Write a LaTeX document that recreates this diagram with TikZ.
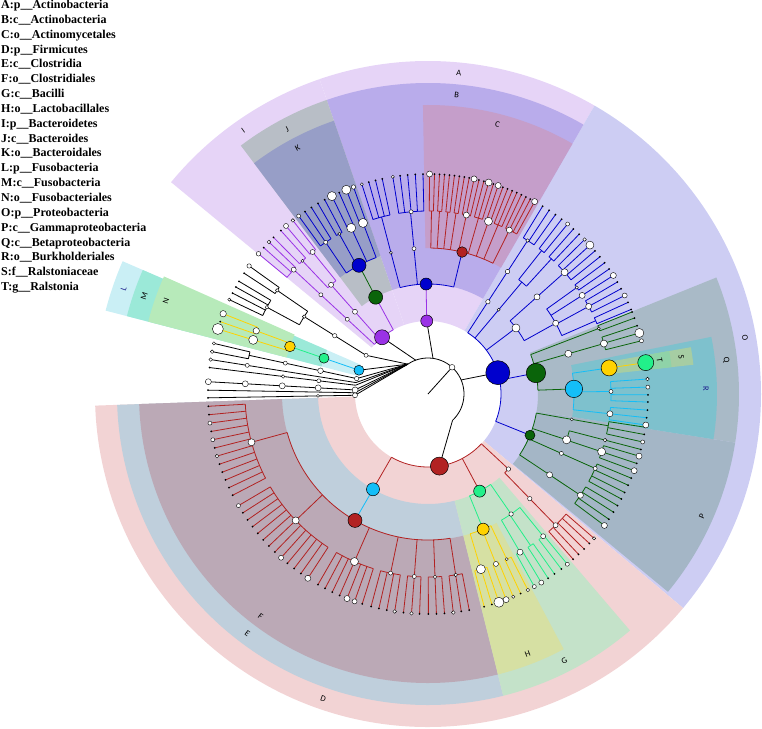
\documentclass[tikz,border=0pt]{standalone}
\usepackage{fontspec}
\setmainfont{Liberation Serif}
\newfontfamily\labfont{Carlito}
\usetikzlibrary{positioning}

% band colours
\definecolor{bandA}{HTML}{E6D4F7}
\definecolor{bandB}{HTML}{B9ACEB}
\definecolor{bandC}{HTML}{C59ECA}
\definecolor{bandD}{HTML}{F2D3D4}
\definecolor{bandE}{HTML}{BFCFDC}
\definecolor{bandF}{HTML}{BBA9B6}
\definecolor{bandG}{HTML}{C4E2C9}
\definecolor{bandH}{HTML}{D6E0A3}
\definecolor{bandJ}{HTML}{B8BEC6}
\definecolor{bandK}{HTML}{979EC7}
\definecolor{bandL}{HTML}{CAEFF5}
\definecolor{bandM}{HTML}{9BE9D8}
\definecolor{bandN}{HTML}{B7EABA}
\definecolor{bandO}{HTML}{CDCDF3}
\definecolor{bandP}{HTML}{A4B6C6}
\definecolor{bandQ}{HTML}{A9BAC7}
\definecolor{bandR}{HTML}{7EC1CD}
\definecolor{bandS}{HTML}{A6CDA3}
\definecolor{bandT}{HTML}{8FD3A8}
% clade colours
\definecolor{cPurple}{HTML}{9A32E6}
\definecolor{cBlue}{HTML}{0000CD}
\definecolor{cRed}{HTML}{B22222}
\definecolor{cGreen}{HTML}{0A640A}
\definecolor{cCyan}{HTML}{14BEF8}
\definecolor{cSpring}{HTML}{22F08A}
\definecolor{cGold}{HTML}{FFD200}
\definecolor{labBlue}{HTML}{1C1C8C}

% level radii
\newcommand\radK{36}
\newcommand\radP{73}
\newcommand\radC{110}
\newcommand\radO{146}
\newcommand\radF{183}
\newcommand\radG{220}

% annular band: colour, from, to, inner, outer
\newcommand\cladeband[5]{\fill[#1] (#2:#4) arc[start angle=#2, end angle=#3, radius=#4]
  -- (#3:#5) arc[start angle=#3, end angle=#2, radius=#5] -- cycle;}
% arc at #2 from #4 to #5, spokes out to #3
\newcommand\cfan[6][black]{\draw[br,#1] (#4:#2) arc[start angle=#4, end angle=#5, radius=#2];
  \foreach \a in {#6} {\draw[br,#1] (\a:#2) -- (\a:#3);}}
% family arc with leaf spokes
\newcommand\cleaves[4][black]{\draw[br,#1] (#2:\radF) arc[start angle=#2, end angle=#3, radius=\radF];
  \foreach \a in {#4} {\draw[br,#1] (\a:\radF) -- (\a:\radG); \fill (\a:\radG) circle[radius=1];}}
% tree nodes
\newcommand\wnode[2]{\filldraw[fill=white, draw=black, line width=0.4pt] (#1) circle[radius=#2];}
\newcommand\cnode[3]{\filldraw[fill=#1, draw=black, line width=0.5pt] (#2) circle[radius=#3];}

\begin{document}
\begin{tikzpicture}[x=1pt, y=1pt,
  br/.style={line width=0.8pt},
  lab/.style={font=\labfont\fontsize{8.5}{9}\selectfont, inner sep=0pt},
  legend/.style={anchor=base west, inner sep=0pt, font=\fontsize{12}{14}\selectfont\bfseries},
]
  \useasboundingbox (-428,-334) rectangle (334,394);

  % phylum bands
  \cladeband{bandA}{60}{109}{\radP}{333}
  \cladeband{bandA}{109}{140.5}{\radP}{333}
  \cladeband{bandO}{-40}{60}{\radP}{333}
  \cladeband{bandD}{182}{320}{\radP}{333}
  \cladeband{bandL}{156.5}{165.5}{\radP}{333}
  % class bands
  \cladeband{bandB}{60}{109}{\radC}{311}
  \cladeband{bandJ}{109}{127}{\radC}{311}
  \cladeband{bandM}{156.5}{165.5}{\radC}{311}
  \cladeband{bandE}{182}{284}{\radC}{311}
  \cladeband{bandG}{284}{310.5}{\radC}{311}
  \cladeband{bandP}{-39.5}{-9}{\radC}{311}
  \cladeband{bandQ}{-9}{22}{\radC}{311}
  % order bands
  \cladeband{bandC}{60}{91}{\radO}{289}
  \cladeband{bandK}{109}{127}{\radO}{289}
  \cladeband{bandN}{156}{165.5}{\radO}{289}
  \cladeband{bandF}{182}{284}{\radO}{289}
  \cladeband{bandH}{284}{298}{\radO}{289}
  \cladeband{bandR}{-9}{11.4}{\radO}{289}
  % family and genus bands
  \cladeband{bandS}{6.3}{10.1}{\radF}{267}
  \cladeband{bandT}{6.3}{10.1}{\radG}{245}

  % band letters
  \node[lab, rotate=-5.5] (lA) at (84.5:322) {A};
  \node[lab, rotate=-5.5] (lB) at (84.5:300) {B};
  \node[lab, rotate=-14.5] (lC) at (75.5:278) {C};
  \node[lab, rotate=-19] (lD) at (251:322) {D};
  \node[lab, rotate=-37] (lE) at (233:300) {E};
  \node[lab, rotate=-37] (lF) at (233:278) {F};
  \node[lab, rotate=27] (lG) at (297:300) {G};
  \node[lab, rotate=21] (lH) at (291:278) {H};
  \node[lab, rotate=35] (lI) at (125:322) {I};
  \node[lab, rotate=28] (lJ) at (118:300) {J};
  \node[lab, rotate=28] (lK) at (118:278) {K};
  \node[lab, rotate=71, labBlue] (lL) at (161:322) {L};
  \node[lab, rotate=71] (lM) at (161:300) {M};
  \node[lab, rotate=70.5] (lN) at (160.5:278) {N};
  \node[lab, rotate=-80] (lO) at (10:322) {O};
  \node[lab, rotate=66] (lP) at (-24:300) {P};
  \node[lab, rotate=-83.5] (lQ) at (6.5:300) {Q};
  \node[lab, rotate=-89, labBlue] (lR) at (1:278) {R};
  \node[lab, rotate=-82] (lS) at (8.2:256) {S};
  \node[lab, rotate=-82] (lT) at (8.2:234) {T};

  % root and kingdom
  \draw[br] (0,0) -- (48:\radK);
  \draw[br] (-47:\radK) arc[start angle=-47, end angle=124, radius=\radK];
  \draw[br] (-47:\radK) -- (-81:\radP);
  \draw[br] (23:\radK) -- (17:\radP);
  \draw[br] (82:\radK) -- (91:\radP);
  \draw[br] (110:\radK) -- (129:\radP);
  \foreach \a in {148,161,167.8,171,173.1,176.8,179,181}
    \draw[br] (124:\radK) -- (\a:\radP);

  % unmarked phyla (black)
  \draw[br] (148:\radP) -- (148:\radO);
  \cfan{\radO}{\radF}{145.5}{151.7}{145.5,151.7}
  \cleaves{144.4}{146.7}{144.4,146.7}
  \cleaves{149.2}{154.6}{149.2,150.9,152.7,154.6}
  \draw[br] (167.8:\radP) -- (167.8:\radF);
  \cleaves{166.7}{168.9}{166.7,168.9}
  \foreach \a in {171,173.1,176.8,179,181} {
    \draw[br] (\a:\radP) -- (\a:\radG);
    \fill (\a:\radG) circle[radius=1];
  }

  % Fusobacteria
  \draw[br,cCyan] (161:\radP) -- (161:\radC);
  \draw[br,cSpring] (161:\radC) -- (161:\radO);
  \cfan[cGold]{\radO}{\radF}{159.8}{162.8}{159.8,162.8}
  \cleaves[cGold]{158.6}{160.8}{158.6,160.8}
  \cleaves[cGold]{162.8}{162.8}{162.8}

  % Bacteroidetes
  \cfan[cPurple]{\radP}{\radC}{118.4}{137.2}{118.4,131.6,137.2}
  \draw[br,cGreen] (118.4:\radC) -- (118.2:\radO);
  \cfan[cBlue]{\radO}{\radF}{110.8}{124}{110.8,114.8,119,124}
  \cleaves[cBlue]{109.8}{111.8}{109.8,111.8}
  \cleaves[cBlue]{113.8}{115.9}{113.8,115.9}
  \cleaves[cBlue]{118}{120}{118,120}
  \cleaves[cBlue]{122}{126}{122,124,126}
  \draw[br,cPurple] (131.6:\radC) -- (131.6:\radO);
  \cfan[cPurple]{\radO}{\radF}{129.1}{133.3}{129.1,133.3}
  \cleaves[cPurple]{127.9}{130.2}{127.9,130.2}
  \cleaves[cPurple]{132}{134.6}{132,134.6}
  \draw[br,cPurple] (137.2:\radC) -- (137.2:\radF);
  \cleaves[cPurple]{136.3}{140.4}{136.3,138.3,140.4}

  % Actinobacteria
  \draw[br,cPurple] (91:\radP) -- (91:\radC);
  \cfan[cBlue]{\radC}{\radO}{76.5}{104.7}{76.5,95.5,104.7}
  \draw[br,cBlue] (104.7:\radO) -- (104.7:\radF);
  \cleaves[cBlue]{102}{107.5}{102,103.8,105.6,107.5}
  \draw[br,cBlue] (95.5:\radO) -- (95.5:\radF);
  \cleaves[cBlue]{91.3}{99.2}{91.3,93.3,95.3,97.3,99.2}
  \cfan[cRed]{\radO}{\radF}{63.6}{88.9}{88.9,86.4,83.8,81.2,77.9,74,70.7,67.5,63.6}
  \cleaves[cRed]{88.3}{89.6}{88.3,89.6}
  \cleaves[cRed]{85.7}{87}{85.7,87}
  \cleaves[cRed]{83.1}{84.4}{83.1,84.4}
  \cleaves[cRed]{80.5}{81.8}{80.5,81.8}
  \cleaves[cRed]{76.6}{79.2}{76.6,77.9,79.2}
  \cleaves[cRed]{72.7}{75.3}{72.7,74,75.3}
  \cleaves[cRed]{70.1}{71.4}{70.1,71.4}
  \cleaves[cRed]{66.2}{68.8}{66.2,67.5,68.8}
  \cleaves[cRed]{61}{64.9}{61,62.3,63.6,64.9}

  % Proteobacteria
  \cfan[cBlue]{\radP}{\radC}{-22}{57}{-22,11,36.9,50,57}
  \draw[br,cBlue] (57:\radC) -- (57:\radF);
  \cleaves[cBlue]{54.6}{58.6}{54.6,56.6,58.6}
  \draw[br,cBlue] (50:\radC) -- (50:\radO);
  \cfan[cBlue]{\radO}{\radF}{47.6}{51.6}{47.6,51.6}
  \cleaves[cBlue]{50.6}{52.6}{50.6,52.6}
  \cleaves[cBlue]{46.6}{48.6}{46.6,48.6}
  \cfan[cBlue]{\radC}{\radO}{29}{41.7}{29,41.7}
  \draw[br,cBlue] (41.7:\radO) -- (41.7:\radF);
  \cleaves[cBlue]{38.6}{44.6}{38.6,40.6,42.6,44.6}
  \cfan[cBlue]{\radO}{\radF}{23.6}{35.6}{23.6,28.6,32.6,35.6}
  \cleaves[cBlue]{34.6}{36.6}{34.6,36.6}
  \cleaves[cBlue]{32.6}{32.6}{32.6}
  \cleaves[cBlue]{26.6}{30.6}{26.6,28.6,30.6}
  \cleaves[cBlue]{22.6}{24.6}{22.6,24.6}
  % Betaproteobacteria
  \cfan[cGreen]{\radC}{\radO}{2}{21}{2,16,21}
  \draw[br,cGreen] (16:\radO) -- (16:\radF);
  \cleaves[cGreen]{14}{18.1}{14,16.1,18.1}
  \draw[br,cGreen] (21:\radO) -- (21:\radF);
  \cleaves[cGreen]{20.2}{21.9}{20.2,21.9}
  \cfan[cCyan]{\radO}{\radF}{-6.2}{8.2}{-6.2,0.8,8.2}
  \cleaves[cCyan]{-2.1}{3.9}{-2.1,-0.2,1.8,3.9}
  \cleaves[cCyan]{-8.1}{-4.2}{-8.1,-6.2,-4.2}
  \draw[br,cGold] (8.2:\radF) -- (8.2:\radG);
  % Gammaproteobacteria
  \cfan[cGreen]{\radC}{\radO}{-33.6}{-10}{-33.6,-24,-18.3,-10}
  \draw[br,cGreen] (-10:\radO) -- (-10:\radF);
  \cleaves[cGreen]{-12.6}{-8.7}{-12.6,-10.6,-8.7}
  \cfan[cGreen]{\radO}{\radF}{-18.4}{-14.6}{-18.4,-14.6}
  \cleaves[cGreen]{-14.6}{-14.6}{-14.6}
  \cleaves[cGreen]{-20.4}{-16.4}{-20.4,-18.4,-16.4}
  \draw[br,cGreen] (-24:\radO) -- (-24:\radF);
  \cleaves[cGreen]{-28.5}{-22.5}{-28.5,-26.6,-24.5,-22.5}
  \draw[br,cGreen] (-33.6:\radO) -- (-33.6:\radF);
  \cleaves[cGreen]{-36.7}{-30.5}{-36.7,-34.7,-32.5,-30.5}

  % Firmicutes
  \cfan[cRed]{\radP}{\radC}{-120}{-43}{-120,-62,-43}
  \draw[br,cCyan] (-120:\radC) -- (-120:\radO);
  \cfan[cRed]{\radO}{\radF}{195.3}{278.7}{195.3,223.7,246.3,258.2,265.7,272.2,278.7}
  \cleaves[cRed]{183.2}{207.4}{183.2,185.4,...,207.5}
  \cleaves[cRed]{210.5}{236.9}{210.5,212.7,...,237}
  \cleaves[cRed]{240}{252.6}{240,242.1,...,252.7}
  \cleaves[cRed]{255}{261.3}{255,257.1,...,261.4}
  \cleaves[cRed]{263.6}{267.8}{263.6,265.7,267.8}
  \cleaves[cRed]{270.1}{274.3}{270.1,272.2,274.3}
  \cleaves[cRed]{276.6}{280.8}{276.6,278.7,280.8}
  \cfan[cSpring]{\radC}{\radO}{-67.8}{-55.3}{-67.8,-55.3}
  \cfan[cGold]{\radO}{\radF}{-73.2}{-64.5}{-73.2,-68.2,-64.5}
  \cleaves[cGold]{-65.1}{-63}{-65.1,-63}
  \cleaves[cGold]{-69.2}{-67.2}{-69.2,-67.2}
  \cleaves[cGold]{-75.2}{-71.2}{-75.2,-73.1,-71.2}
  \cfan[cSpring]{\radO}{\radF}{-59.8}{-51}{-59.8,-55.9,-51}
  \cleaves[cSpring]{-52.7}{-50.7}{-52.7,-50.7}
  \cleaves[cSpring]{-56.9}{-54.9}{-56.9,-54.9}
  \cleaves[cSpring]{-61.1}{-59}{-61.1,-59}
  \cfan[cRed]{\radC}{\radO}{-45.8}{-43}{-45.8}
  \draw[br,cRed] (-45.8:\radO) -- (-45.8:\radF);
  \cleaves[cRed]{-48.7}{-41}{-48.7,-46.8,-44.8,-42.8,-41}

  % plain nodes
  \foreach \p/\s in {48:36/2.8,
      148:73/2, 148:110/2.2, 148:146/1.8, 145.5:183/1.8, 144.4:220/2.2, 151.7:183/1.8, 154.6:220/1.6,
      167.8:73/2.2, 167.8:110/2.8, 167.8:146/2, 166.7:220/1.6, 168.9:220/1.8,
      171:183/2, 171:220/1.8, 173.1:110/2, 173.1:146/1.8, 179:73/2, 181:73/2.5, 181:110/1.5,
      176.8:73/3, 176.8:110/3, 176.8:146/3, 176.8:183/3, 176.8:220/3,
      159.8:183/3.2, 162.8:183/4.5, 158.6:220/3.2, 162.8:220/5.5,
      131.6:110/2.5, 137.2:110/2, 131.6:146/2.5, 137.2:146/2, 129.1:183/2.5, 133.3:183/1.5,
      137.2:183/2.5, 130.2:220/2.5, 127.9:220/1.8, 140.4:220/2.3, 136.3:220/1.8,
      124:183/2, 110.8:183/4.5, 114.8:183/4.5, 119:183/1.5,
      111.8:220/4.5, 115.9:220/4.5, 109.8:220/2.2, 126:220/2,
      95.5:146/2, 95.3:183/2, 104.7:146/1.5, 77.9:183/3, 70.7:183/4, 63.6:183/3,
      89.6:220/3, 77.9:220/3, 74:220/3.5, 71.4:220/3, 61:220/3, 107.5:220/1.5, 99.2:220/1.6,
      36.9:110/4, 57:110/2.2, 50:110/1.5, 57:146/2.2, 41.7:146/3, 29:146/3,
      57:183/1.8, 41.7:183/3.5, 32.6:183/3, 28.6:183/3, 35.6:183/1.6,
      42.6:220/4, 32.6:220/3, 26.6:220/2.5, 50.6:220/2, 44.6:220/1.8,
      16:146/3.5, 16:183/3.5, 16.1:220/4.5, 21:183/1.5, 14:220/2,
      0.8:183/2, -6.2:183/3, 1.8:220/2, -8.1:220/3, 3.9:220/1.8,
      -18.3:146/4, -24:146/2, -33.6:146/3, -10:146/1.5, -18.4:183/4, -33.6:183/3,
      -24:183/2, -14.6:183/1.8, -16.4:220/3, -20.4:220/3, -36.7:220/3, -12.6:220/2,
      -43:110/2.2, -45.8:146/2.2, -45.8:183/2.5, -55.3:146/2.2, -51:183/2.5, -59.8:183/3,
      -50.7:220/2, -59:220/2.5, -61.1:220/2, -64.5:183/1.5, -68.2:183/2.5, -73.2:183/4.5,
      -71.2:220/5, -69.2:220/3, -63:220/1.8, -67.2:220/1.6, -41:220/1.6,
      195.3:183/3.5, 223.7:183/3.5, 246.3:183/4, 258.2:183/2, 265.7:183/2, 272.2:183/1.8,
      278.7:183/1.8, 187.6:220/2, 192:220/2, 196.4:220/1.8, 228.1:220/2.5, 236.9:220/3,
      248.4:220/3, 250.5:220/2.5, 261.3:220/1.8, 265.7:220/1.8, 276.6:220/1.8, 210.5:220/2}
    {\wnode{\p}{\s}}

  % marked clades
  \cnode{cBlue}{17:\radP}{12}
  \cnode{cRed}{-81:\radP}{9}
  \cnode{cPurple}{91:\radP}{6}
  \cnode{cPurple}{129:\radP}{7.5}
  \cnode{cCyan}{161:\radP}{5}
  \cnode{cBlue}{91:\radC}{6}
  \cnode{cGreen}{118.4:\radC}{7}
  \cnode{cSpring}{161:\radC}{5}
  \cnode{cCyan}{-120:\radC}{6.5}
  \cnode{cSpring}{-62:\radC}{6}
  \cnode{cGreen}{-22:\radC}{5}
  \cnode{cGreen}{11:\radC}{9.7}
  \cnode{cRed}{76.5:\radO}{5.3}
  \cnode{cBlue}{118.2:\radO}{7}
  \cnode{cGold}{161:\radO}{5.3}
  \cnode{cRed}{-120:\radO}{7}
  \cnode{cGold}{-67.8:\radO}{6}
  \cnode{cCyan}{2:\radO}{8.7}
  \cnode{cGold}{8.2:\radF}{8}
  \cnode{cSpring}{8.2:\radG}{8}

  % key
  \foreach \txt [count=\i] in {A:p\_\_Actinobacteria, B:c\_\_Actinobacteria,
      C:o\_\_Actinomycetales, D:p\_\_Firmicutes, E:c\_\_Clostridia, F:o\_\_Clostridiales,
      G:c\_\_Bacilli, H:o\_\_Lactobacillales, I:p\_\_Bacteroidetes, J:c\_\_Bacteroides,
      K:o\_\_Bacteroidales, L:p\_\_Fusobacteria, M:c\_\_Fusobacteria, N:o\_\_Fusobacteriales,
      O:p\_\_Proteobacteria, P:c\_\_Gammaproteobacteria, Q:c\_\_Betaproteobacteria,
      R:o\_\_Burkholderiales, S:f\_\_Ralstoniaceae, T:g\_\_Ralstonia}
    {\node[legend] (key\i) at (-427,{385.5-14.85*(\i-1)}) {\txt};}
\end{tikzpicture}
\end{document}
